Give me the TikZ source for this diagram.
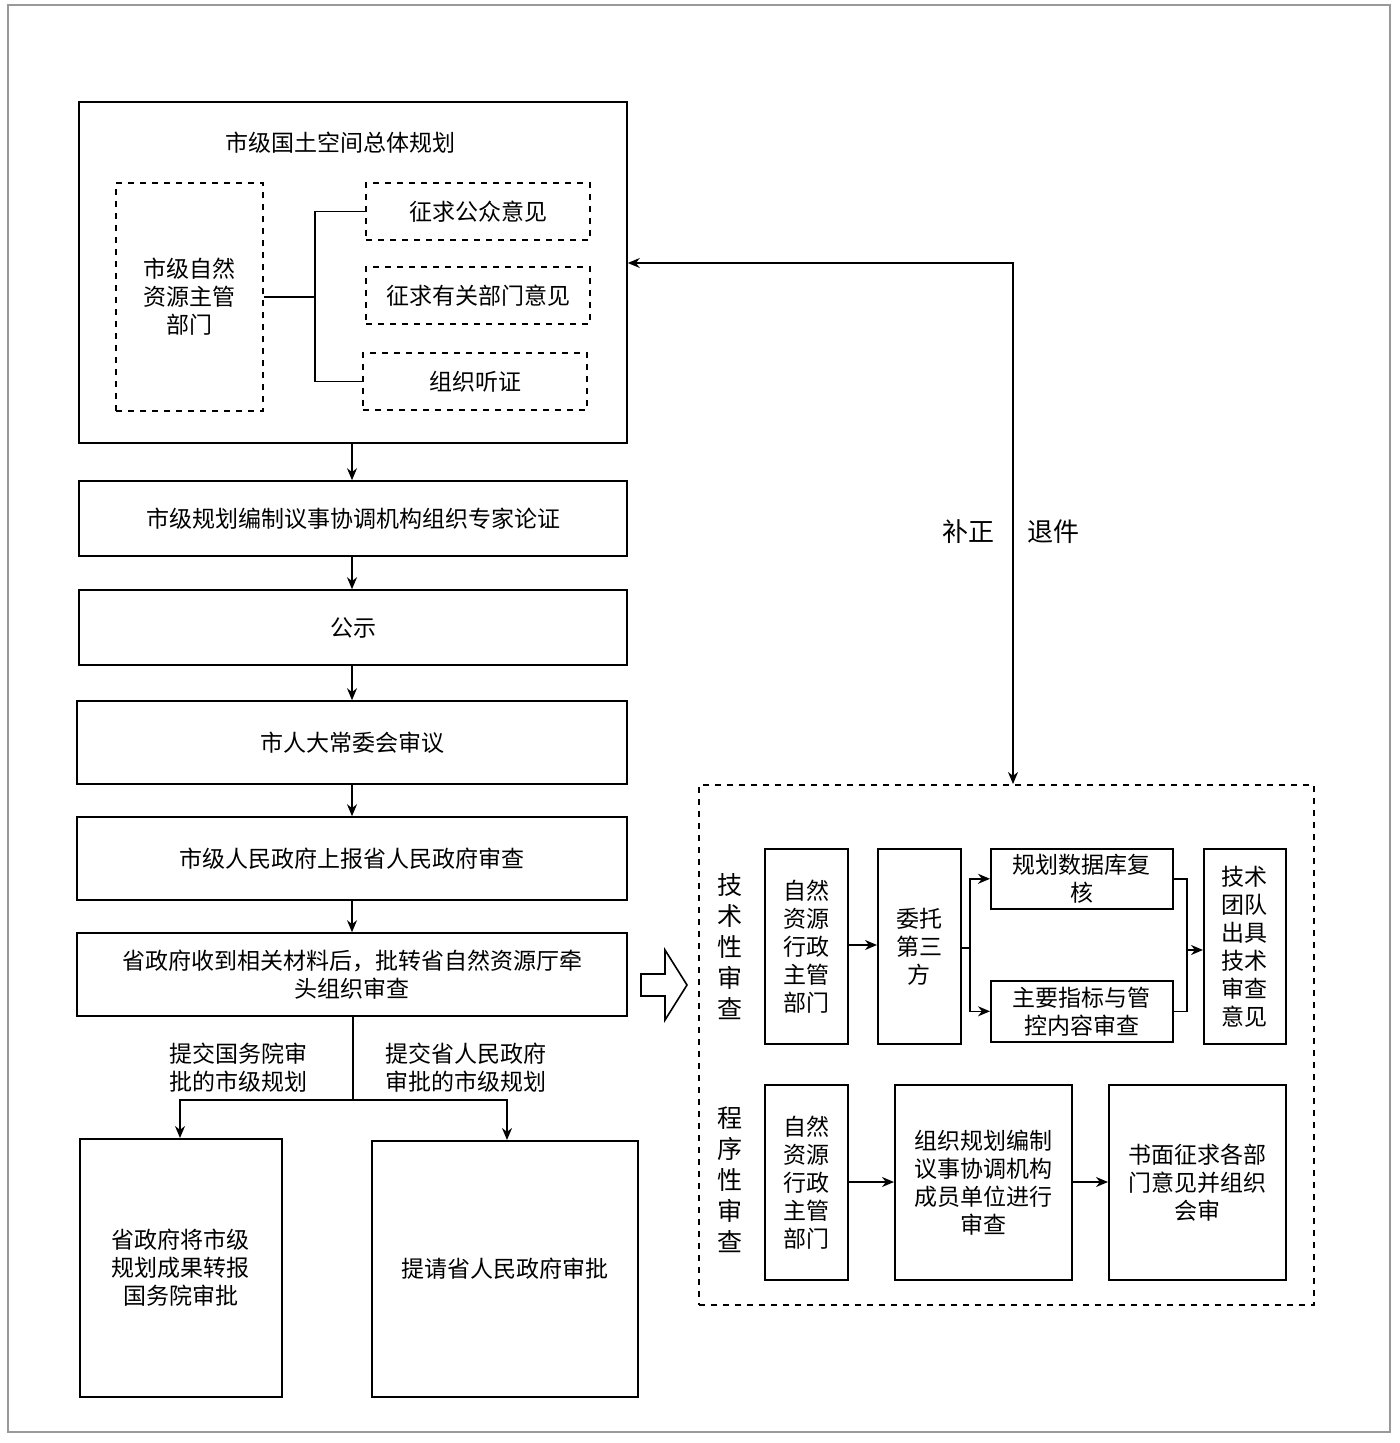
\documentclass[tikz,border=0pt]{standalone}
\usepackage{fontspec}
\setmainfont{Noto Sans CJK SC}
\usetikzlibrary{arrows.meta,shapes.arrows}
\begin{document}
\begin{tikzpicture}[x=0.5pt,y=-0.5pt,
  sz/.style 2 args={minimum width=#1*0.5pt,minimum height=#2*0.5pt},
  box/.style={draw,thick,align=center,font=\fontsize{11.5}{14}\selectfont,inner sep=0pt},
  dbox/.style={box,dashed},
  arr/.style={thick,-{Stealth[length=6pt,width=5pt]}},
  ln/.style={thick},
  lbl/.style={align=center,font=\fontsize{11.5}{14}\selectfont}]
\useasboundingbox (0,0) rectangle (1400,1443);
\draw[gray!80,line width=1.2pt] (8,5) rectangle (1390,1432);
% top box
\node[box,sz={548}{341}] (top) at (353,272.5) {};
\node[lbl] (title) at (340,143) {市级国土空间总体规划};
\node[dbox,sz={147}{228}] (zr) at (189.5,297) {市级自然\\资源主管\\部门};
\node[dbox,sz={224}{57}] (d1) at (478,211.5) {征求公众意见};
\node[dbox,sz={224}{57}] (d2) at (478,295.5) {征求有关部门意见};
\node[dbox,sz={224}{57}] (d3) at (475,381.5) {组织听证};
\coordinate (j) at (315,297);
\draw[ln] (zr.east) -- (j);
\draw[ln] (d1.west) -| (j) |- (d3.west);
% chain
\node[box,sz={548}{75}] (b2) at (353,518.5) {市级规划编制议事协调机构组织专家论证};
\node[box,sz={548}{75}] (b3) at (353,627.5) {公示};
\node[box,sz={550}{83}] (b4) at (352,742.5) {市人大常委会审议};
\node[box,sz={550}{83}] (b5) at (352,858.5) {市级人民政府上报省人民政府审查};
\node[box,sz={550}{83}] (b6) at (352,974.5) {省政府收到相关材料后，批转省自然资源厅牵\\头组织审查};
\coordinate (cx0) at (352,0);
\draw[arr] (top.south -| cx0) -- (b2.north -| cx0);
\draw[arr] (b2.south -| cx0) -- (b3.north -| cx0);
\draw[arr] (b3.south -| cx0) -- (b4.north -| cx0);
\draw[arr] (b4.south -| cx0) -- (b5.north -| cx0);
\draw[arr] (b5.south -| cx0) -- (b6.north -| cx0);
% split
\node[box,sz={202}{258},anchor=north west] (l1) at (79,1138) {省政府将市级\\规划成果转报\\国务院审批};
\node[box,sz={266}{256},anchor=north west] (l2) at (371,1140) {提请省人民政府审批};
\coordinate (sp) at (353,1100);
\draw[ln] (b6.south -| sp) -- (sp);
\draw[arr] (sp) -| (l1.north -| 180,0);
\draw[arr] (sp) -| (l2.north -| 507,0);
\node[lbl] (t1) at (238,1068) {提交国务院审\\批的市级规划};
\node[lbl] (t2) at (466,1068) {提交省人民政府\\审批的市级规划};
% hollow arrow
\draw[thick,line join=miter] (641,974) -- (665,974) -- (665,950) -- (687,985) -- (665,1020) -- (665,996) -- (641,996) -- cycle;
% right dashed panel
\node[draw,dashed,line width=1.2pt,sz={615}{520},anchor=north west] (rp) at (698,784) {};
\coordinate (fb1) at (1013,263);
\draw[arr,{Stealth[length=6pt,width=5pt]}-{Stealth[length=6pt,width=5pt]}] (rp.north -| fb1) -- (fb1) -- (top.east |- fb1);
\node[lbl,font=\fontsize{13}{15}\selectfont] (bz) at (968,532) {补正};
\node[lbl,font=\fontsize{13}{15}\selectfont] (tj) at (1053,532) {退件};
% tech review
\node[lbl,font=\fontsize{12.5}{15.5}\selectfont] (js) at (730,947) {技\\术\\性\\审\\查};
\node[box,sz={83}{195},anchor=north west] (r1) at (764,848) {自然\\资源\\行政\\主管\\部门};
\node[box,sz={83}{195},anchor=north west] (r2) at (877,848) {委托\\第三\\方};
\node[box,sz={182}{60},anchor=north west] (r3) at (990,848) {规划数据库复\\核};
\node[box,sz={182}{61},anchor=north west] (r4) at (990,980) {主要指标与管\\控内容审查};
\node[box,sz={82}{195},anchor=north west] (r5) at (1203,848) {技术\\团队\\出具\\技术\\审查\\意见};
\draw[arr] (r1.east |- 0,945) -- (r2.west |- 0,945);
\coordinate (ja) at (970,948);
\draw[ln] (r2.east |- ja) -- (ja);
\draw[arr] (ja) |- (r3.west);
\draw[arr] (ja) |- (r4.west);
\coordinate (jb) at (1187,950);
\draw[ln] (r3.east) -| (jb) |- (r4.east);
\draw[arr] (jb) -- (r5.west |- jb);
% procedural review
\node[lbl,font=\fontsize{12.5}{15.5}\selectfont] (cx) at (730,1180) {程\\序\\性\\审\\查};
\node[box,sz={83}{195},anchor=north west] (p1) at (764,1084) {自然\\资源\\行政\\主管\\部门};
\node[box,sz={177}{195},anchor=north west] (p2) at (894,1084) {组织规划编制\\议事协调机构\\成员单位进行\\审查};
\node[box,sz={177}{195},anchor=north west] (p3) at (1108,1084) {书面征求各部\\门意见并组织\\会审};
\draw[arr] (p1.east |- 0,1182) -- (p2.west |- 0,1182);
\draw[arr] (p2.east |- 0,1182) -- (p3.west |- 0,1182);
\end{tikzpicture}
\end{document}
